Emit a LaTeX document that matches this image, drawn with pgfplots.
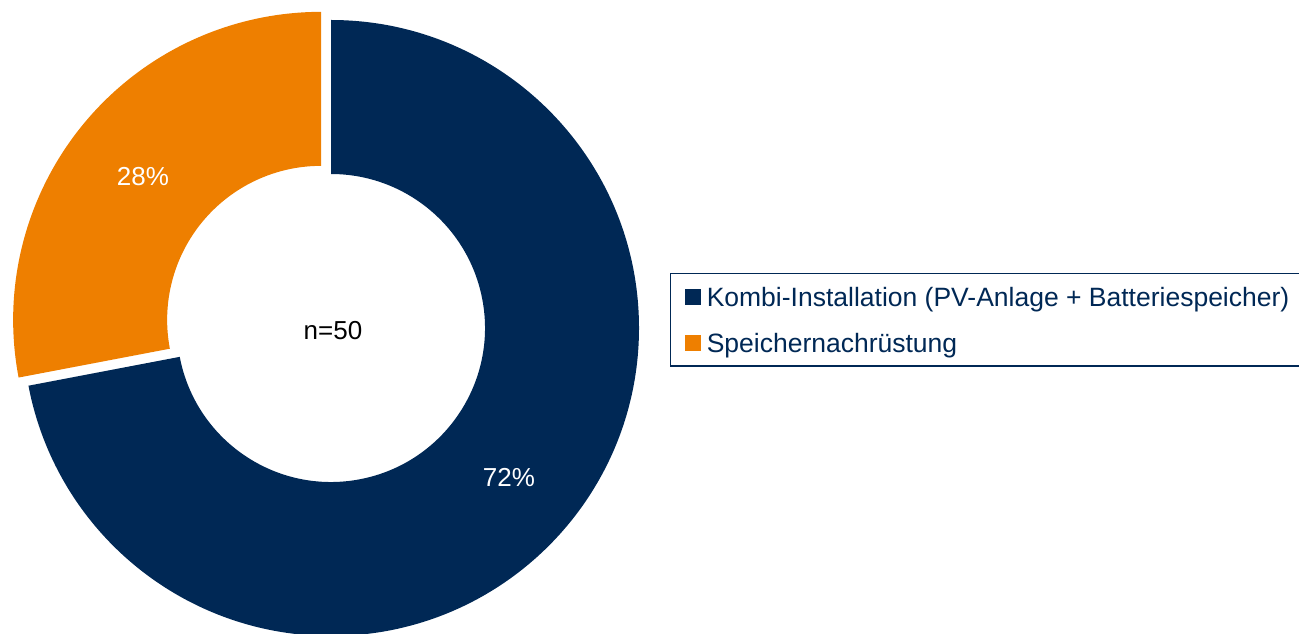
\documentclass[border=0pt]{standalone}
\usepackage{fontspec}
\setmainfont{Liberation Sans}
\usepackage{pgfplots}
\usepackage{pgfplotstable}
\pgfplotsset{compat=1.18}
\definecolor{navyblue}{HTML}{002855}
\definecolor{orangeseg}{HTML}{EE7F00}

% share in percent, label position (pixel grid of the chart)
\pgfplotstableread{
label value labx laby
Kombi 72 509 156
Speicher 28 143 456
}\shares

\begin{document}
\begin{tikzpicture}
\pgfplotstablegetelem{0}{value}\of\shares \let\valA\pgfplotsretval
\pgfplotstablegetelem{1}{value}\of\shares \let\valB\pgfplotsretval
\pgfplotstablegetelem{0}{labx}\of\shares \let\lxA\pgfplotsretval
\pgfplotstablegetelem{0}{laby}\of\shares \let\lyA\pgfplotsretval
\pgfplotstablegetelem{1}{labx}\of\shares \let\lxB\pgfplotsretval
\pgfplotstablegetelem{1}{laby}\of\shares \let\lyB\pgfplotsretval
\pgfmathsetmacro\aStart{90}
\pgfmathsetmacro\aMid{90-3.6*\valA}
\pgfmathsetmacro\aEnd{\aMid-3.6*\valB}
\pgfmathsetmacro\aOff{(\aMid+\aEnd)/2}
\useasboundingbox (0,0) rectangle (649.5pt,316.5pt);
\begin{axis}[
  at={(0pt,0pt)}, anchor=south west, scale only axis,
  width=649.5pt, height=316.5pt,
  xmin=0, xmax=1299, ymin=0, ymax=633, enlargelimits=false,
  hide axis, clip=false,
  legend style={at={(axis cs:669.5,360)}, anchor=north west, draw=navyblue,
    line width=0.75pt, fill=white, text=navyblue,
    font=\fontsize{13.25}{15.9}\selectfont, inner xsep=7.5pt, inner ysep=5pt,
    row sep=10pt, nodes={inner sep=0pt, text height=11.15pt, text depth=1.85pt}},
  legend cell align=left,
]
\addlegendimage{legend image code/.code={\fill[navyblue] (0pt,-3.5pt) rectangle (7pt,3.5pt); \path (10pt,0pt);}}
\addlegendentry{Kombi-Installation (PV-Anlage + Batteriespeicher)}
\addlegendimage{legend image code/.code={\fill[orangeseg] (0pt,-3.5pt) rectangle (7pt,3.5pt); \path (10pt,0pt);}}
\addlegendentry{Speichernachrüstung}

\coordinate (c) at (axis cs:331,305);
\coordinate (co) at ([shift={(\aOff:6.4pt)}]c);
\fill[navyblue] ([shift={(\aStart:154pt)}]c) arc[start angle=\aStart, end angle=\aMid, radius=154pt]
  -- ([shift={(\aMid:77pt)}]c) arc[start angle=\aMid, end angle=\aStart, radius=77pt] -- cycle;
\fill[orangeseg] ([shift={(\aMid:154pt)}]co) arc[start angle=\aMid, end angle=\aEnd, radius=154pt]
  -- ([shift={(\aEnd:77pt)}]co) arc[start angle=\aEnd, end angle=\aMid, radius=77pt] -- cycle;

\node[text=white, font=\fontsize{13}{15.6}\selectfont] at (axis cs:\lxA,\lyA) {\valA\%};
\node[text=white, font=\fontsize{13}{15.6}\selectfont] at (axis cs:\lxB,\lyB) {\valB\%};
\node[text=black, font=\fontsize{13}{15.6}\selectfont] at (axis cs:333,302) {n=50};
\end{axis}
\end{tikzpicture}
\end{document}
